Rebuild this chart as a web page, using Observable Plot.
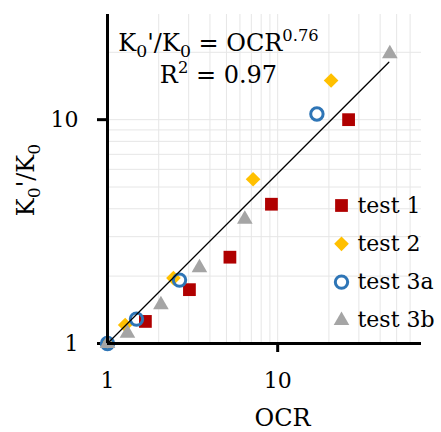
<!DOCTYPE html>
<html><head><meta charset="utf-8">
<script src="https://cdn.jsdelivr.net/npm/d3@7"></script>
<script src="https://cdn.jsdelivr.net/npm/@observablehq/plot@0.6"></script>
<style>body{margin:0;background:#fff}</style>
</head><body><div id="chart"></div>
<script>
// ---- data ----
const seriesNames = ["test 1", "test 2", "test 3a", "test 3b"];
const ocrTest1 = [1.67, 3.03, 5.24, 9.19, 26.1];
const kTest1   = [1.255, 1.74, 2.43, 4.19, 10.0];
const ocrTest2 = [1, 1.27, 2.44, 7.17, 20.6];
const kTest2   = [1, 1.21, 1.96, 5.42, 14.96];
const ocrTest3a = [1, 1.48, 2.65, 17.0];
const kTest3a   = [1, 1.285, 1.92, 10.6];
const ocrTest3b = [1, 1.31, 2.06, 3.47, 6.41, 45.6];
const kTest3b   = [1, 1.11, 1.49, 2.18, 3.59, 19.7];
const fitOCR = [1, 45];
const fitK   = [1, 18.06];
const xTicks = [1, 10];
const yTicks = [1, 10];
const xGrid = [2, 3, 4, 5, 6, 7, 8, 9, 10, 20, 30, 40, 50, 60];
const yGrid = [2, 3, 4, 5, 6, 7, 8, 9, 10, 20];
const xTitle = "OCR";
const yTitle = "K_{0}'/K_{0}";
const eqLine1 = "K_{0}'/K_{0} = OCR^{0.76}";
const eqLine2 = "R^{2} = 0.97";

// ---- styles ----
const FONT = "DejaVu Serif";
const styles = [
  {symbol: "square", fill: "#B00000", stroke: "none", strokeWidth: 0, r: 7.2},
  {symbol: "diamond2", fill: "#FFC000", stroke: "none", strokeWidth: 0, r: 6.6},
  {symbol: "circle", fill: "none", stroke: "#2E75B6", strokeWidth: 3, r: 6.2},
  {symbol: "triangle", fill: "#A5A5A5", stroke: "none", strokeWidth: 0, r: 5.8}
];
const xs = [ocrTest1, ocrTest2, ocrTest3a, ocrTest3b];
const ks = [kTest1, kTest2, kTest3a, kTest3b];
const series = seriesNames.map((name, i) => ({
  name, ...styles[i],
  points: xs[i].map((x, j) => ({ocr: x, k: ks[i][j]}))
}));
const fit = fitOCR.map((x, j) => ({ocr: x, k: fitK[j]}));

const W = 441, H = 432, ML = 107, MR = 20, MT = 14, MB = 89;

const marks = [
  Plot.ruleX(xGrid, {stroke: "#e6e6e6", strokeWidth: 1}),
  Plot.ruleY(yGrid, {stroke: "#e6e6e6", strokeWidth: 1}),
  ...series.map(s => Plot.dot(s.points, {
    x: "ocr", y: "k", symbol: s.symbol, r: s.r,
    fill: s.fill, stroke: s.stroke, strokeWidth: s.strokeWidth
  })),
  Plot.line(fit, {x: "ocr", y: "k", stroke: "#000", strokeWidth: 1.3}),
  Plot.ruleX([1], {stroke: "#000", strokeWidth: 3}),
  Plot.ruleY([1], {stroke: "#000", strokeWidth: 3}),
  // legend
  ...series.map((s, i) => Plot.dot([s.name], {
    frameAnchor: "top-left", dx: 234, dy: 191 + i * 38.3,
    symbol: s.symbol, r: s.r, fill: s.fill, stroke: s.stroke, strokeWidth: s.strokeWidth
  })),
  ...series.map((s, i) => Plot.text([s.name], {
    frameAnchor: "top-left", dx: 250, dy: 191 + i * 38.3,
    text: d => d, textAnchor: "start", lineAnchor: "middle",
    fontSize: 22, fontFamily: FONT, fill: "#000"
  })),
  // annotation
  Plot.text([eqLine1], {frameAnchor: "top-left", dx: 111, dy: 29, text: d => d,
    textAnchor: "middle", lineAnchor: "middle", fontSize: 24, fontFamily: FONT, fill: "#000"}),
  Plot.text([eqLine2], {frameAnchor: "top-left", dx: 111, dy: 61, text: d => d,
    textAnchor: "middle", lineAnchor: "middle", fontSize: 24, fontFamily: FONT, fill: "#000"}),
  // axis titles
  Plot.text([xTitle], {frameAnchor: "bottom-left", dx: 175, dy: 75, text: d => d,
    textAnchor: "middle", lineAnchor: "middle", fontSize: 24, fontFamily: FONT, fill: "#000"}),
  Plot.text([yTitle], {frameAnchor: "left", dx: -81, dy: 1, rotate: -90, text: d => d,
    textAnchor: "middle", lineAnchor: "middle", fontSize: 24, fontFamily: FONT, fill: "#000"})
];

const svg = Plot.plot({
  width: W, height: H,
  marginLeft: ML, marginRight: MR, marginTop: MT, marginBottom: MB,
  style: {fontFamily: FONT, fontSize: "22px", background: "#fff", color: "#000", overflow: "visible"},
  x: {type: "log", domain: [1, 70], ticks: xTicks, tickFormat: d => String(d), tickSize: 9, tickPadding: 20, label: null},
  y: {type: "log", domain: [1, 29.5], ticks: yTicks, tickFormat: d => String(d), tickSize: 10, tickPadding: 19, label: null},
  marks
});
document.getElementById("chart").appendChild(svg);

// axis tick styling
const svgBox = svg.getBoundingClientRect();
svg.querySelectorAll('[aria-label^="x-axis"] line, [aria-label^="x-axis"] path, [aria-label^="y-axis"] line, [aria-label^="y-axis"] path')
  .forEach(el => el.setAttribute("stroke-width", 3));
svg.querySelectorAll('[aria-label^="x-axis"] line, [aria-label^="x-axis"] path').forEach(el => {
  const b = el.getBoundingClientRect();
  if (Math.abs(b.x + b.width / 2 - svgBox.x - ML) < 4) el.remove();
});

// rich text: _{sub} and ^{sup}
const NS = "http://www.w3.org/2000/svg";
svg.querySelectorAll("text").forEach(textEl => {
  const raw = textEl.textContent;
  if (!/[_^]\{/.test(raw)) return;
  const size = parseFloat(getComputedStyle(textEl).fontSize) || 24;
  while (textEl.firstChild) textEl.removeChild(textEl.firstChild);
  let shift = 0;
  raw.split(/([_^]\{[^}]*\})/).forEach(p => {
    if (!p) return;
    const t = document.createElementNS(NS, "tspan");
    let target = 0, content = p, fs = null;
    if (p.startsWith("_{")) { target = 0.24 * size; content = p.slice(2, -1); fs = 0.72 * size; }
    else if (p.startsWith("^{")) { target = -0.42 * size; content = p.slice(2, -1); fs = 0.68 * size; }
    t.setAttribute("dy", (target - shift) + "px");
    shift = target;
    if (fs) t.setAttribute("font-size", fs + "px");
    t.textContent = content;
    textEl.appendChild(t);
  });
});
</script>
</body></html>
